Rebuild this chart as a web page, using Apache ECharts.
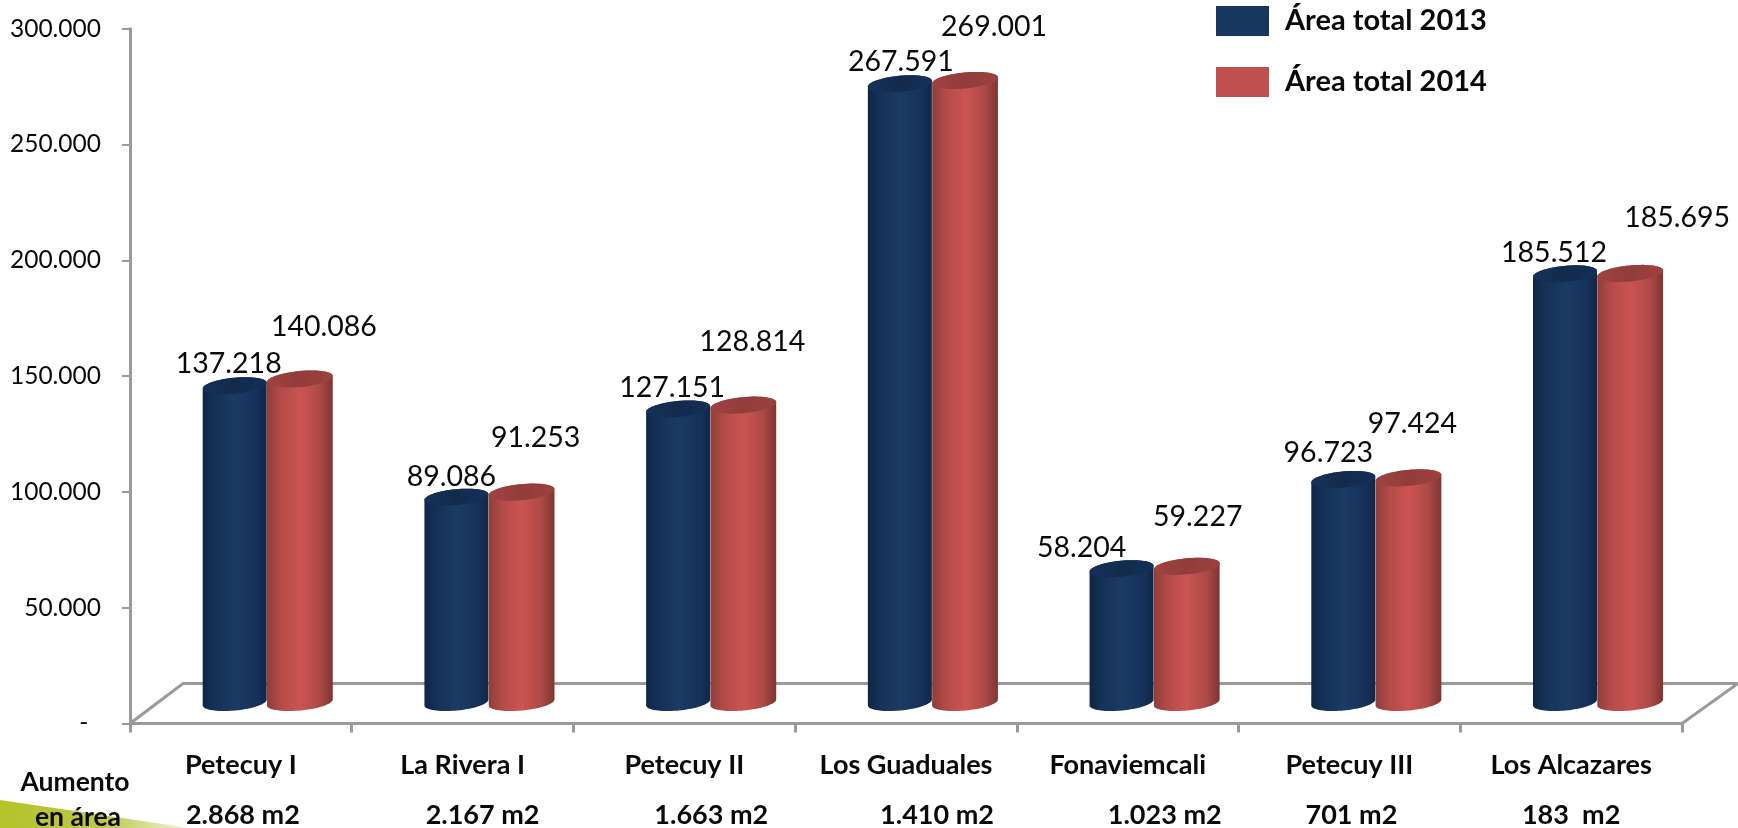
<!DOCTYPE html>
<html><head><meta charset="utf-8">
<style>html,body{margin:0;padding:0;background:#fff}#c{width:1738px;height:828px}</style>
<script src="https://cdn.jsdelivr.net/npm/echarts@6/dist/echarts.min.js"></script>
</head><body><div id="c"></div>
<script>
const categories = ['Petecuy I','La Rivera I','Petecuy II','Los Guaduales','Fonaviemcali','Petecuy III','Los Alcazares'];
const area2013 = [137218,89086,127151,267591,58204,96723,185512];
const area2014 = [140086,91253,128814,269001,59227,97424,185695];
const aumento = ['2.868 m2','2.167 m2','1.663 m2','1.410 m2','1.023 m2','701 m2','183  m2'];
const yTicks = {min:0,max:300000,interval:50000};

// label nudges relative to the top of each cylinder (styling only)
const nudge2013 = [[-6,-22],[-5,-20],[-6,-21],[1,-22],[-40,-21],[-15,-27],[-11,-21]];
const nudge2014 = [[24,-52],[14,-54],[9,-63],[29,-54],[11,-50],[4,-54],[47,-56]];
const nudgeAumento = [2,20,27,31,37,2,0];

const FONT = 'Lato, Carlito, "Open Sans", sans-serif';
const DEPTH_X = 53, DEPTH_Y = 40;      // floor depth
const BAR_X = 26, BAR_Y = 20;          // bars stand mid-depth
const TILT = -5.5 * Math.PI / 180;
const GRAY = '#9a9a9a';
const fmt = v => v === 0 ? '-  ' : String(v).replace(/\B(?=(\d{3})+$)/g,'.');

function ell(cx, cy, a, b, th){
  return [cx + a*Math.cos(th)*Math.cos(TILT) - b*Math.sin(th)*Math.sin(TILT),
          cy + a*Math.cos(th)*Math.sin(TILT) + b*Math.sin(th)*Math.cos(TILT)];
}
function cylinder(opts){
  return function(params, api){
    const i = api.value(0), v = api.value(1);
    const top = api.coord([i, v]), base = api.coord([i, 0]);
    const step = api.size([1,0])[0];
    const a = step * opts.half;
    const cx = top[0] + BAR_X + step * opts.shift;
    const ty = top[1] - BAR_Y, by = base[1] - BAR_Y;
    const b = 8;
    const body = [];
    for(let k=0;k<=40;k++){ body.push(ell(cx,by-1,a,b,Math.PI*k/40)); }
    for(let k=0;k<=40;k++){ body.push(ell(cx,ty,a,b,Math.PI+Math.PI*k/40)); }
    const cap = [];
    for(let k=0;k<60;k++){ cap.push(ell(cx,ty,a,b,2*Math.PI*k/60)); }
    const n = opts.nudge[i];
    return {type:'group',children:[
      {type:'polygon',shape:{points:body},style:{fill:new echarts.graphic.LinearGradient(0,0,1,0,opts.grad)}},
      {type:'polygon',shape:{points:cap},style:{fill:new echarts.graphic.LinearGradient(0,0,1,0.15,opts.capGrad)}},
      {type:'text',style:{text:fmt(v),x:cx+n[0],y:ty+n[1],align:'center',verticalAlign:'middle',
        font:'28.5px '+FONT,fill:'#0a0a0a'}}
    ]};
  };
}
const blueGrad = [{offset:0,color:'#0e2644'},{offset:.14,color:'#142f54'},{offset:.5,color:'#1b3b63'},{offset:.85,color:'#16315a'},{offset:1,color:'#0f2747'}];
const redGrad = [{offset:0,color:'#8f3d3a'},{offset:.2,color:'#b24b48'},{offset:.5,color:'#cb5452'},{offset:.8,color:'#ac4a47'},{offset:1,color:'#7e3532'}];
const blueCap = [{offset:0,color:'#16325a'},{offset:.5,color:'#122b4c'},{offset:1,color:'#14305a'}];
const redCap = [{offset:0,color:'#a0423f'},{offset:.5,color:'#923d3b'},{offset:1,color:'#9c413e'}];

const chart = echarts.init(document.getElementById('c'));
chart.setOption({
  animation:false,
  backgroundColor:'#fff',
  textStyle:{fontFamily:FONT},
  grid:{left:130,right:56,top:28.7,height:694.8,containLabel:false},
  legend:{
    left:1216,top:6,padding:0,orient:'vertical',itemWidth:53,itemHeight:30,itemGap:31,
    data:['Área total 2013','Área total 2014'],
    icon:'rect',
    textStyle:{fontFamily:FONT,fontSize:29,fontWeight:'bold',color:'#0a0a0a',padding:[3,0,0,11]}
  },
  xAxis:{
    type:'category',data:categories,
    axisLine:{lineStyle:{color:GRAY,width:3}},
    axisTick:{show:true,alignWithLabel:false,length:9,lineStyle:{color:GRAY,width:3}},
    axisLabel:{margin:28,fontSize:27,fontWeight:'bold',color:'#0a0a0a',fontFamily:FONT,interval:0}
  },
  yAxis:{
    type:'value',min:yTicks.min,max:yTicks.max,interval:yTicks.interval,
    splitLine:{show:false},
    axisLine:{show:true,lineStyle:{color:GRAY,width:3}},
    axisTick:{show:true,length:8,lineStyle:{color:GRAY,width:2}},
    axisLabel:{margin:29,fontSize:24.5,color:'#0a0a0a',fontFamily:FONT,formatter:fmt,padding:[2,0,0,0]}
  },
  graphic:[
    {type:'polygon',z:-1,silent:true,shape:{points:[[0,800],[0,828],[190,828]]},
      style:{fill:new echarts.graphic.LinearGradient(0,0,1,0,[{offset:0,color:'#b5c22a'},{offset:.55,color:'#bcc84a'},{offset:1,color:'#f4f5e0'}])}},
    {type:'text',z:10,style:{text:'Aumento',x:75,y:782,align:'center',verticalAlign:'middle',font:'bold 26.5px '+FONT,fill:'#0a0a0a'}},
    {type:'text',z:10,style:{text:'en área',x:78,y:817,align:'center',verticalAlign:'middle',font:'bold 26.5px '+FONT,fill:'#0a0a0a'}}
  ],
  series:[
    {type:'custom',name:'piso',z:1,silent:true,data:[[0,0]],
      renderItem(params,api){
        const s = api.size([1,0])[0];
        const l = api.coord([0,0]); const x0 = l[0]-s/2, y0 = l[1];
        const x1 = x0 + s*categories.length;
        return {type:'polyline',shape:{points:[[x0,y0],[x0+DEPTH_X,y0-DEPTH_Y],[x1+DEPTH_X+3,y0-DEPTH_Y],[x1,y0]]},
          style:{stroke:GRAY,lineWidth:3,fill:null}};
      }},
    {type:'custom',name:'Área total 2013',z:3,itemStyle:{color:'#17375e'},
      data:area2013.map((v,i)=>[i,v]),
      encode:{x:0,y:1},
      renderItem:cylinder({half:.145,shift:-.145,grad:blueGrad,capGrad:blueCap,nudge:nudge2013})},
    {type:'custom',name:'Área total 2014',z:4,itemStyle:{color:'#c0504d'},
      data:area2014.map((v,i)=>[i,v]),
      encode:{x:0,y:1},
      renderItem:cylinder({half:.149,shift:.149,grad:redGrad,capGrad:redCap,nudge:nudge2014})},
    {type:'custom',name:'Aumento en área',z:5,silent:true,
      data:aumento.map((t,i)=>[i,0,t]),
      renderItem(params,api){
        const i = api.value(0);
        const p = api.coord([i,0]);
        return {type:'text',style:{text:aumento[i],x:p[0]+nudgeAumento[i],y:p[1]+92,align:'center',verticalAlign:'middle',
          font:'bold 27px '+FONT,fill:'#0a0a0a'}};
      }}
  ]
});
</script></body></html>
